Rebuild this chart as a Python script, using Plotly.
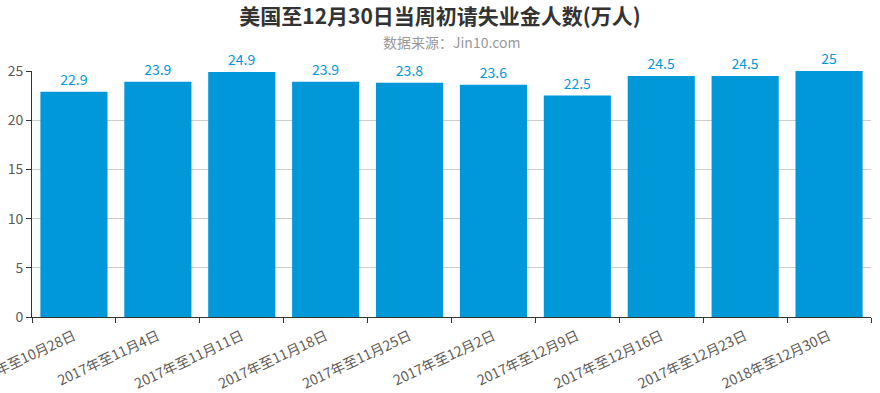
import plotly.graph_objects as go

categories = ["2017年至10月28日", "2017年至11月4日", "2017年至11月11日", "2017年至11月18日",
              "2017年至11月25日", "2017年至12月2日", "2017年至12月9日", "2017年至12月16日",
              "2017年至12月23日", "2018年至12月30日"]
values = [22.9, 23.9, 24.9, 23.9, 23.8, 23.6, 22.5, 24.5, 24.5, 25]
y_ticks = [0, 5, 10, 15, 20, 25]

FONT = "Microsoft YaHei, Noto Sans CJK SC, sans-serif"
BLUE = "#0098d9"
LABEL = "#5e5a56"

fig = go.Figure(go.Bar(
    x=categories, y=values,
    marker=dict(color=BLUE, line=dict(width=0)),
    text=[f"{v:g}" for v in values],
    textposition="outside",
    textfont=dict(color=BLUE, size=14, family=FONT),
    cliponaxis=False,
    width=0.8,
))

fig.update_layout(
    width=880, height=393,
    margin=dict(l=32, r=9, t=71, b=76),
    plot_bgcolor="white", paper_bgcolor="white",
    showlegend=False,
    font=dict(family=FONT, color=LABEL),
    title=dict(text="美国至12月30日当周初请失业金人数(万人)", x=0.5, xanchor="center",
               y=1 - 17 / 393, yanchor="middle",
               font=dict(size=21, color="#333", family=FONT, weight="bold")),
    annotations=[dict(text="数据来源：Jin10.com", xref="paper", yref="paper",
                      x=0.5, xanchor="center", y=1.0, yanchor="bottom", yshift=17,
                      showarrow=False, font=dict(size=14, color="#999", family=FONT))],
)
fig.update_xaxes(
    type="category", tickangle=-25, tickson="boundaries",
    ticks="outside", ticklen=5, tickcolor="#333",
    showline=True, linecolor="#333", linewidth=1,
    tickfont=dict(size=14, color=LABEL, family=FONT),
    ticklabelstandoff=5,
    showgrid=False, automargin=False,
)
fig.update_yaxes(
    range=[0, 25], tickvals=y_ticks,
    ticks="outside", ticklen=5, tickcolor="#333",
    showline=True, linecolor="#333", linewidth=1,
    showgrid=True, gridcolor="#cfcbc7", gridwidth=1,
    tickfont=dict(size=14, color=LABEL, family=FONT),
    zeroline=False, automargin=False,
)

fig.write_html("out.html", config={"displayModeBar": False})
with open("out.html", encoding="utf-8") as f:
    html = f.read()
html = html.replace("<body>", '<body style="margin:0;overflow:hidden">', 1)
with open("out.html", "w", encoding="utf-8") as f:
    f.write(html)
